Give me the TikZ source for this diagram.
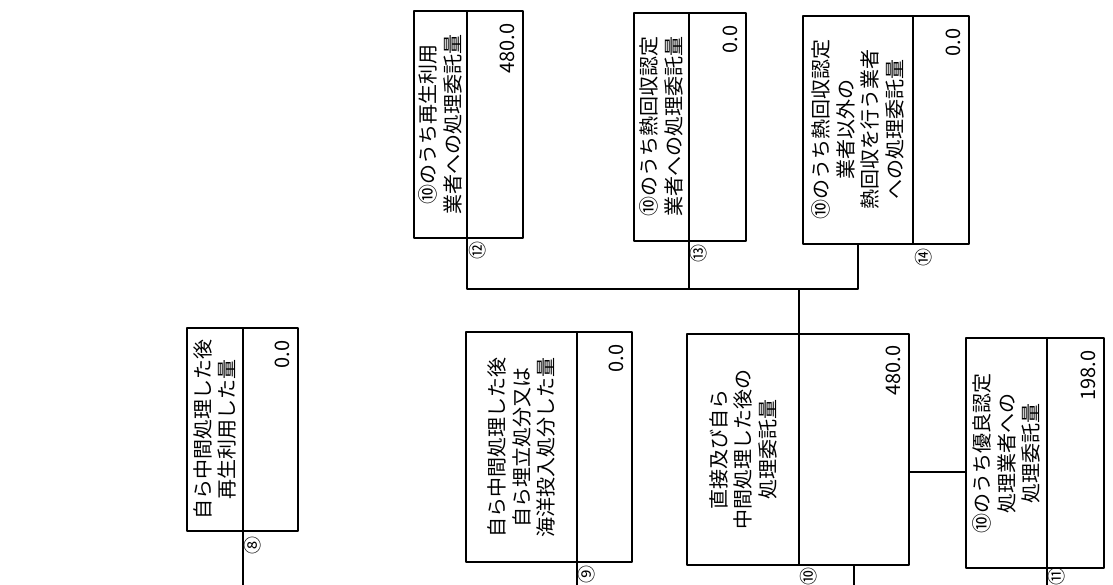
\documentclass[tikz,border=0pt]{standalone}
\usepackage{fontspec}
\setmainfont{Noto Sans CJK JP}
\tikzset{
	part/.style={draw,inner sep=0pt,outer sep=0pt,anchor=north west},
	lbl/.style={rotate=90,align=center,inner sep=0pt,font=\fontsize{20}{24.5}\selectfont},
	val/.style={rotate=90,anchor=south east,inner sep=0pt,font=\fontsize{20}{20}\selectfont},
	num/.style={rotate=90,anchor=north,inner sep=0pt,font=\fontsize{18}{18}\selectfont}
}
\begin{document}
\begin{tikzpicture}[x=1pt,y=-1pt,line join=round,line width=1.1pt]
	\useasboundingbox (0,0) rectangle (1113,585);
	\coordinate (bus) at (0,289);
	\coordinate (bot) at (0,585);
	\coordinate (j11) at (0,472);
	% lower row
	\node[part,minimum width=56pt,minimum height=203pt] (t8) at (187,328) {};
	\node[part,minimum width=55pt,minimum height=203pt] (v8) at (t8.north east) {};
	\node[part,minimum width=111pt,minimum height=230pt] (t9) at (466,332) {};
	\node[part,minimum width=55pt,minimum height=230pt] (v9) at (t9.north east) {};
	\node[part,minimum width=112pt,minimum height=231pt] (t10) at (687,334) {};
	\node[part,minimum width=110pt,minimum height=231pt] (v10) at (t10.north east) {};
	\node[part,minimum width=81pt,minimum height=230pt] (t11) at (966,338) {};
	\node[part,minimum width=57pt,minimum height=230pt] (v11) at (t11.north east) {};
	% upper row
	\node[part,minimum width=53pt,minimum height=227pt] (t12) at (414,11) {};
	\node[part,minimum width=56pt,minimum height=227pt] (v12) at (t12.north east) {};
	\node[part,minimum width=55pt,minimum height=228pt] (t13) at (634,13) {};
	\node[part,minimum width=57pt,minimum height=228pt] (v13) at (t13.north east) {};
	\node[part,minimum width=110pt,minimum height=228pt] (t14) at (803,16) {};
	\node[part,minimum width=56pt,minimum height=228pt] (v14) at (t14.north east) {};
	% texts
	\node[lbl] (l8) at (t8.center) {自ら中間処理した後\\再生利用した量};
	\node[lbl] (l9) at (t9.center) {自ら中間処理した後\\自ら埋立処分又は\\海洋投入処分した量};
	\node[lbl] (l10) at (t10.center) {直接及び自ら\\中間処理した後の\\処理委託量};
	\node[lbl] (l11) at (t11.center) {⑩のうち優良認定\\処理業者への\\処理委託量};
	\node[lbl] (l12) at (t12.center) {⑩のうち再生利用\\業者への処理委託量};
	\node[lbl] (l13) at (t13.center) {⑩のうち熱回収認定\\業者への処理委託量};
	\node[lbl] (l14) at (t14.center) {⑩のうち熱回収認定\\業者以外の\\熱回収を行う業者\\への処理委託量};
	% values
	\node[val] (n8) at ([shift={(-8,12)}]v8.north east) {0.0};
	\node[val] (n9) at ([shift={(-8,12)}]v9.north east) {0.0};
	\node[val] (n10) at ([shift={(-8,11)}]v10.north east) {480.0};
	\node[val] (n11) at ([shift={(-8,12)}]v11.north east) {198.0};
	\node[val] (n12) at ([shift={(-8,12)}]v12.north east) {480.0};
	\node[val] (n13) at ([shift={(-8,12)}]v13.north east) {0.0};
	\node[val] (n14) at ([shift={(-8,12)}]v14.north east) {0.0};
	% numbers
	\node[num] (c8) at ([shift={(1,14)}]v8.south west) {⑧};
	\node[num] (c9) at ([shift={(1,12)}]v9.south west) {⑨};
	\node[num] (c10) at ([shift={(1,11)}]v10.south west) {⑩};
	\node[num] (c11) at ([shift={(1,8.5)}]v11.south west) {⑪};
	\node[num] (c12) at ([shift={(2,12)}]v12.south west) {⑫};
	\node[num] (c13) at ([shift={(1,12)}]v13.south west) {⑬};
	\node[num] (c14) at ([shift={(2,13)}]v14.south west) {⑭};
	% connectors
	\draw (v12.south west) -- (v12.south west |- bus) -- (t14.south |- bus) -- (t14.south);
	\draw (v13.south west) -- (v13.south west |- bus);
	\draw (v10.north west) -- (v10.north west |- bus);
	\draw (v10.east |- j11) -- (t11.west |- j11);
	\draw (v8.south west) -- (v8.south west |- bot);
	\draw (v9.south west) -- (v9.south west |- bot);
	\draw (v10.south) -- (v10.south |- bot);
	\draw (v11.south west) -- (v11.south west |- bot);
\end{tikzpicture}
\end{document}
